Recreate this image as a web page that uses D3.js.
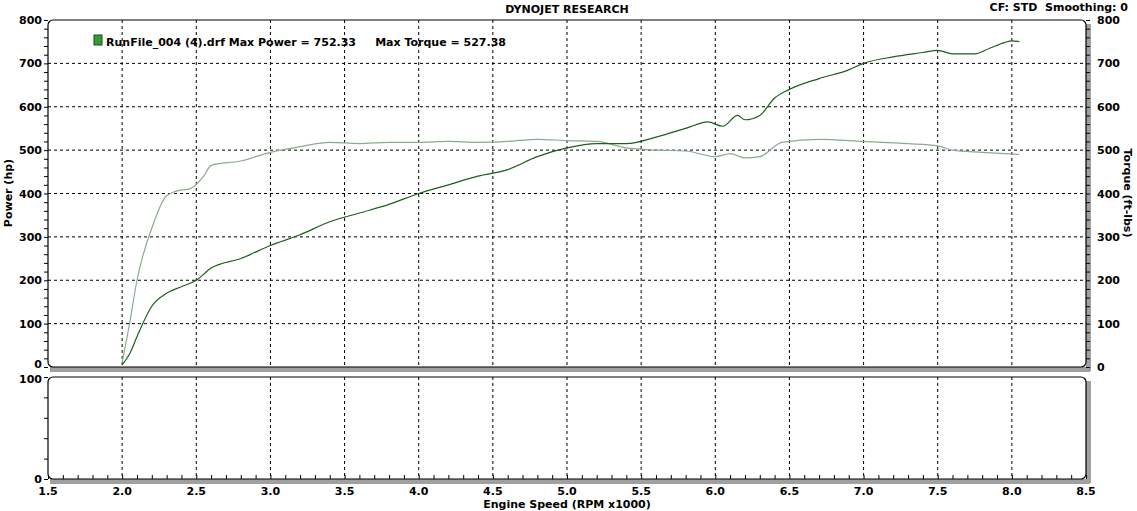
<!DOCTYPE html>
<html><head><meta charset="utf-8">
<script src="https://cdn.jsdelivr.net/npm/d3@7"></script>
<style>body{margin:0;background:#fff}text{font-family:"DejaVu Sans",Verdana,sans-serif;font-weight:bold}</style>
</head><body><svg id="c" width="1137" height="511"></svg>
<script>
"use strict";
var rpmPower = [2.0,2.05,2.1,2.2,2.3,2.4,2.5,2.6,2.8,3.0,3.2,3.4,3.6,3.8,4.0,4.2,4.4,4.6,4.8,5.0,5.2,5.4,5.6,5.8,5.95,6.05,6.15,6.2,6.3,6.4,6.5,6.7,6.9,7.0,7.2,7.4,7.5,7.6,7.75,7.85,7.95,8.0,8.05]
var power = [5,30,70,140,170,185,200,228,250,280,305,335,355,375,400,420,440,455,485,505,515,515,530,550,565,555,580,570,580,620,640,665,685,700,715,725,730,722,722,735,748,752,750]
var rpmTorque = [2.0,2.05,2.1,2.2,2.3,2.4,2.45,2.55,2.6,2.8,3.0,3.2,3.4,3.6,3.8,4.0,4.2,4.4,4.6,4.8,5.0,5.2,5.4,5.6,5.8,6.0,6.1,6.2,6.3,6.45,6.7,7.0,7.3,7.5,7.6,7.8,8.05]
var torque = [10,100,200,320,395,408,410,440,465,475,495,508,518,515,518,518,520,518,520,525,522,520,505,500,498,485,492,482,485,518,525,520,515,510,500,495,490]
var xTicks = [1.5,2.0,2.5,3.0,3.5,4.0,4.5,5.0,5.5,6.0,6.5,7.0,7.5,8.0,8.5]
var yTicks = [0,100,200,300,400,500,600,700,800]

var svg = d3.select('#c')
var x = d3.scaleLinear().domain([1.5, 8.5]).range([48, 1086])
var y = d3.scaleLinear().domain([0, 800]).range([367, 20])
var y2 = d3.scaleLinear().domain([0, 100]).range([479, 377])

// panels: shadow then frame
function panel(top, bottom) {
    svg.append('rect').attr('x', 50).attr('y', bottom).attr('width', 1040).attr('height', 5).attr('fill', '#a0a0a0')
    svg.append('rect').attr('x', 1086).attr('y', top + 4).attr('width', 5).attr('height', bottom - top).attr('fill', '#a0a0a0')
    svg.append('rect').attr('x', 48).attr('y', top).attr('width', 1038).attr('height', bottom - top)
        .attr('rx', 5).attr('fill', '#fff').attr('stroke', '#000').attr('stroke-width', 1.2)
}
panel(20, 367)
panel(377, 479)

// grid
var g = svg.append('g').attr('stroke', '#000').attr('stroke-dasharray', '3,3').attr('stroke-width', 1)
xTicks.slice(1, -1).forEach(function (t) {
    g.append('line').attr('x1', x(t)).attr('x2', x(t)).attr('y1', 20).attr('y2', 367)
    g.append('line').attr('x1', x(t)).attr('x2', x(t)).attr('y1', 377).attr('y2', 479)
})
yTicks.slice(1, -1).forEach(function (t) {
    g.append('line').attr('x1', 48).attr('x2', 1086).attr('y1', y(t)).attr('y2', y(t))
})

// axes
svg.append('g').attr('transform', 'translate(48,0)')
    .call(d3.axisLeft(y).tickValues(d3.range(0, 801, 20)).tickSize(4).tickFormat(''))
    .call(a => a.select('.domain').remove())
svg.append('g').attr('transform', 'translate(1086,0)')
    .call(d3.axisRight(y).tickValues(d3.range(0, 801, 20)).tickSize(4).tickFormat(''))
    .call(a => a.select('.domain').remove())
svg.append('g').attr('transform', 'translate(48,0)')
    .call(d3.axisLeft(y2).tickValues(d3.range(0, 101, 20)).tickSize(4).tickFormat(''))
    .call(a => a.select('.domain').remove())
svg.append('g').attr('transform', 'translate(0,479)')
    .call(d3.axisBottom(x).tickValues(d3.range(1.5, 8.51, 0.1)).tickSize(-4).tickFormat(''))
    .call(a => a.select('.domain').remove())

yTicks.forEach(function (t) {
    var dy = t === 0 ? 1 : 4
    svg.append('text').text(t).attr('x', 42).attr('y', y(t) + dy).attr('text-anchor', 'end').attr('font-size', 11)
    svg.append('text').text(t).attr('x', 1097).attr('y', y(t) + 4).attr('font-size', 11)
})
svg.append('text').text(100).attr('x', 42).attr('y', y2(100) + 6).attr('text-anchor', 'end').attr('font-size', 11)
svg.append('text').text(0).attr('x', 42).attr('y', y2(0) + 4).attr('text-anchor', 'end').attr('font-size', 11)
xTicks.forEach(function (t) {
    svg.append('text').text(t.toFixed(1)).attr('x', x(t)).attr('y', 495).attr('text-anchor', 'middle').attr('font-size', 11)
})

svg.append('text').text('Engine Speed (RPM x1000)').attr('x', 567).attr('y', 508).attr('text-anchor', 'middle').attr('font-size', 11)
svg.append('text').text('DYNOJET RESEARCH').attr('x', 567).attr('y', 13).attr('text-anchor', 'middle').attr('font-size', 11)
svg.append('text').text('CF: STD  Smoothing: 0').attr('x', 1128).attr('y', 11).attr('text-anchor', 'end').attr('font-size', 11).attr('xml:space', 'preserve')
svg.append('text').text('Power (hp)').attr('transform', 'translate(12,193) rotate(-90)').attr('text-anchor', 'middle').attr('font-size', 11)
svg.append('text').text('Torque (ft-lbs)').attr('transform', 'translate(1124,193) rotate(90)').attr('text-anchor', 'middle').attr('font-size', 11)

// legend
svg.append('rect').attr('x', 94).attr('y', 35).attr('width', 8).attr('height', 10).attr('fill', '#3a9a3a').attr('stroke', '#1a4a1a')
svg.append('text').text('RunFile_004 (4).drf Max Power = 752.33     Max Torque = 527.38')
    .attr('x', 106).attr('y', 46).attr('font-size', 11).attr('xml:space', 'preserve')

// curves
var line = d3.line().curve(d3.curveMonotoneX)
svg.append('path').datum(rpmTorque.map((r, i) => [x(r), y(torque[i])]))
    .attr('d', line).attr('fill', 'none').attr('stroke', '#8cab8c').attr('stroke-width', 1.2)
svg.append('path').datum(rpmPower.map((r, i) => [x(r), y(power[i])]))
    .attr('d', line).attr('fill', 'none').attr('stroke', '#1b601b').attr('stroke-width', 1.2)
</script></body></html>
